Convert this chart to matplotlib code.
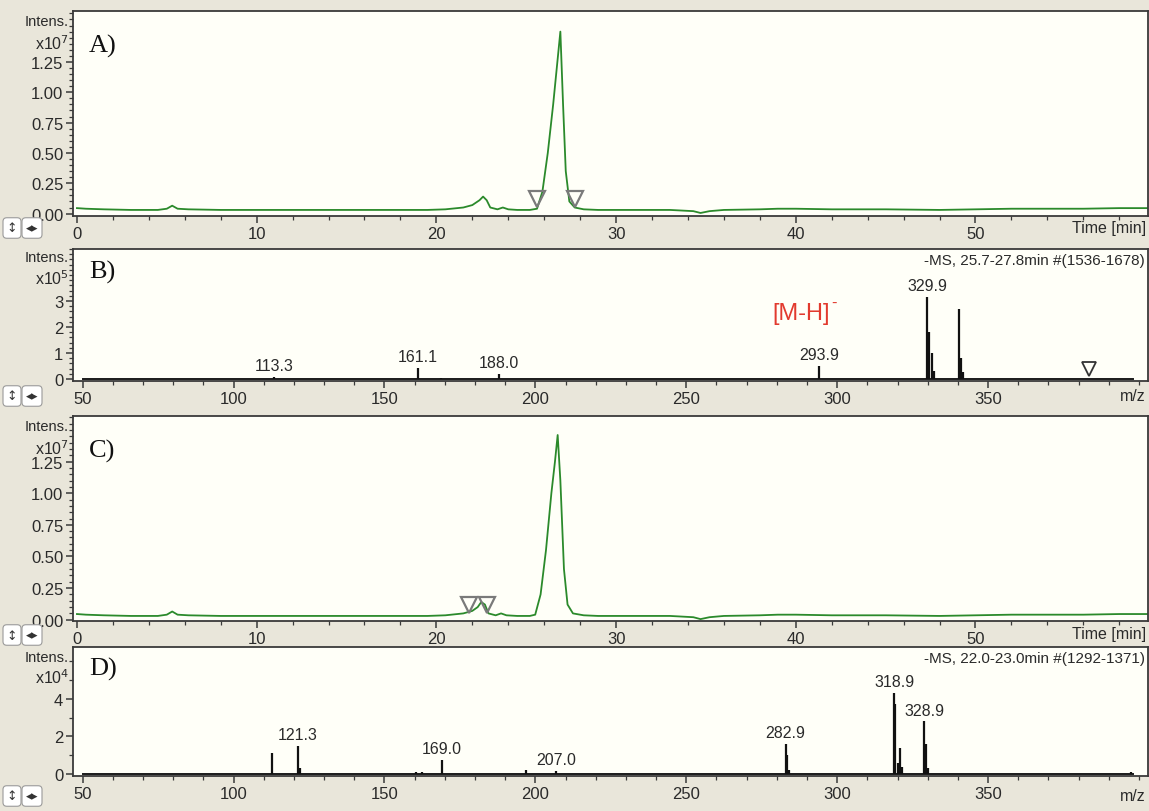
import matplotlib
matplotlib.use("Agg")
import matplotlib.pyplot as plt
from matplotlib.ticker import MultipleLocator, FixedLocator
from matplotlib import font_manager

# Colors
fig_bg = "#E9E6DA"
plot_bg = "#FFFFF8"
green = "#2B8A2B"
ink = "#2A2A2A"
marker_gray = "#7A7A7A"
red = "#E23A2E"

names = {f.name for f in font_manager.fontManager.ttflist}
narrow = "Liberation Sans Narrow" if "Liberation Sans Narrow" in names else "Liberation Sans"
plt.rcParams["font.family"] = [narrow, "DejaVu Sans"]

# ---- data -------------------------------------------------------------
# chromatogram A (x10^7)
time_a = [0, 0.5, 1.5, 3, 4.5, 5.0, 5.3, 5.6, 6.2, 8, 10, 12, 14, 16, 18, 19.5,
          20.5, 21.5, 22.0, 22.4, 22.6, 22.8, 23.0, 23.4, 23.7, 24.0, 24.5, 25.2,
          25.6, 25.9, 26.2, 26.5, 26.7, 26.9, 27.05, 27.2, 27.4, 27.7, 28.2, 29,
          31, 33, 34.3, 34.7, 35.2, 36, 38, 39, 40, 42, 45, 48, 50, 52, 54, 56,
          58, 59.6]
int_a = [0.045, 0.04, 0.035, 0.03, 0.03, 0.04, 0.065, 0.04, 0.035, 0.03, 0.03,
         0.03, 0.03, 0.03, 0.03, 0.03, 0.035, 0.05, 0.07, 0.11, 0.14, 0.11, 0.05,
         0.035, 0.05, 0.035, 0.03, 0.03, 0.04, 0.18, 0.5, 0.9, 1.2, 1.50, 0.9,
         0.35, 0.1, 0.05, 0.035, 0.03, 0.03, 0.03, 0.02, 0.005, 0.02, 0.03, 0.035,
         0.04, 0.04, 0.035, 0.035, 0.03, 0.035, 0.04, 0.04, 0.04, 0.045, 0.045]
marks_a = [25.6, 27.7]

# chromatogram C (x10^7)
time_c = [0, 0.5, 1.5, 3, 4.5, 5.0, 5.3, 5.6, 6.2, 8, 10, 12, 14, 16, 18, 19.5,
          20.5, 21.5, 22.0, 22.3, 22.5, 22.7, 22.9, 23.3, 23.6, 23.9, 24.5, 25.2,
          25.5, 25.8, 26.1, 26.4, 26.6, 26.75, 26.9, 27.1, 27.3, 27.6, 28.2, 29,
          31, 33, 34.3, 34.7, 35.2, 36, 38, 39, 40, 42, 45, 48, 50, 52, 54, 56,
          58, 59.6]
int_c = [0.045, 0.04, 0.035, 0.03, 0.03, 0.04, 0.065, 0.04, 0.035, 0.03, 0.03,
         0.03, 0.03, 0.03, 0.03, 0.03, 0.035, 0.05, 0.07, 0.1, 0.14, 0.12, 0.05,
         0.035, 0.05, 0.035, 0.03, 0.03, 0.04, 0.2, 0.55, 1.0, 1.25, 1.46, 1.1,
         0.4, 0.12, 0.05, 0.035, 0.03, 0.03, 0.03, 0.02, 0.005, 0.02, 0.03, 0.035,
         0.04, 0.04, 0.035, 0.035, 0.03, 0.035, 0.04, 0.04, 0.04, 0.045, 0.045]
marks_c = [21.8, 22.8]

# spectrum B (x10^5)
scan_range = (50, 398)
mz_b = [113.3, 161.1, 168.8, 188.0, 293.9, 329.9, 330.4, 331.5, 332.1,
        340.5, 341.0, 341.6]
int_b = [0.06, 0.42, 0.04, 0.2, 0.5, 3.15, 1.8, 1.0, 0.3, 2.7, 0.8, 0.25]
labels_b = ["113.3", "161.1", None, "188.0", "293.9", "329.9", None, None, None,
            None, None, None]
mark_b = [383.5]
title_b = "-MS, 25.7-27.8min #(1536-1678)"

# spectrum D (x10^4)
mz_d = [112.8, 121.3, 122.0, 160.4, 162.3, 169.0, 196.8, 207.0, 282.9, 283.5,
        284.2, 318.9, 319.3, 320.0, 320.9, 321.5, 328.9, 329.3, 330.0, 397.5]
int_d = [1.1, 1.5, 0.3, 0.1, 0.1, 0.75, 0.22, 0.15, 1.6, 1.0, 0.2, 4.3, 3.7,
         0.6, 1.4, 0.4, 2.8, 1.6, 0.3, 0.1]
labels_d = [None, "121.3", None, None, None, "169.0", None, "207.0", "282.9",
            None, None, "318.9", None, None, None, None, "328.9", None, None, None]
title_d = "-MS, 22.0-23.0min #(1292-1371)"

# ---- layout -----------------------------------------------------------
W, H = 1149, 812
L, R = 73, 1148
fig = plt.figure(figsize=(W / 100, H / 100), dpi=100, facecolor=fig_bg)


def make_axes(top, bottom):
    ax = fig.add_axes([L / W, 1 - bottom / H, (R - L) / W, (bottom - top) / H])
    ax.set_facecolor(plot_bg)
    for s in ax.spines.values():
        s.set_color("#3A3A3A")
        s.set_linewidth(1.3)
    ax.tick_params(which="both", direction="out", colors="#3A3A3A",
                   labelcolor=ink, labelsize=12)
    ax.tick_params(which="major", length=5, width=1.1, pad=2)
    ax.tick_params(which="minor", length=3, width=0.9)
    return ax


def px(x, y):
    return x / W, 1 - y / H


def side_text(ax, exp, y_intens, y_exp, letter):
    fig.text(*px(69, y_intens), "Intens.", ha="right", va="center",
             fontsize=10.5, color=ink)
    fig.text(*px(69, y_exp), r"x10$^{%d}$" % exp, ha="right", va="center",
             fontsize=11.5, color=ink)
    ax.text(0.015, 0.83, letter, transform=ax.transAxes, fontsize=19,
            family="Liberation Serif", color="#111111", va="center")


def icons(y):
    for x, s in [(12, "\u2195"), (32, "\u25C2\u25B8")]:
        fig.text(*px(x, y), s, ha="center", va="center", fontsize=9,
                 color="#333333", family="DejaVu Sans",
                 bbox=dict(boxstyle="round,pad=0.3", fc="white",
                           ec="#9A9A9A", lw=0.8))


def chromatogram(ax, t, y, marks, ylim):
    ax.plot(t, y, color=green, lw=1.3)
    ax.plot(marks, [0.12] * len(marks), "v", ms=11, mfc="none",
            mec=marker_gray, mew=1.6)
    ax.set_xlim(-0.22, 59.6)
    ax.set_ylim(*ylim)
    ax.xaxis.set_major_locator(FixedLocator([0, 10, 20, 30, 40, 50]))
    ax.xaxis.set_minor_locator(MultipleLocator(2))
    ax.yaxis.set_major_locator(FixedLocator([0, 0.25, 0.5, 0.75, 1.0, 1.25]))
    ax.yaxis.set_minor_locator(MultipleLocator(0.05))
    ax.set_yticklabels(["0.00", "0.25", "0.50", "0.75", "1.00", "1.25"])


def spectrum(ax, mz, inten, labels, ylim, yticks, minor, title):
    ax.plot(scan_range, [0, 0], color="#1A1A1A", lw=1.4)
    ax.vlines(mz, 0, inten, color="#111111", lw=1.6)
    top = ylim[1]
    for m, v, lab in zip(mz, inten, labels):
        if lab:
            ax.text(m, v + top * 0.03, lab, ha="center", va="bottom",
                    fontsize=11.5, color=ink)
    ax.set_xlim(46.8, 403)
    ax.set_ylim(*ylim)
    ax.xaxis.set_major_locator(FixedLocator([50, 100, 150, 200, 250, 300, 350]))
    ax.xaxis.set_minor_locator(MultipleLocator(10))
    ax.yaxis.set_major_locator(FixedLocator(yticks))
    ax.yaxis.set_minor_locator(MultipleLocator(minor))
    ax.text(0.997, 0.97, title, transform=ax.transAxes, ha="right", va="top",
            fontsize=11, color=ink)


# A
ax_a = make_axes(12, 217)
chromatogram(ax_a, time_a, int_a, marks_a, (-0.02, 1.67))
side_text(ax_a, 7, 22, 44, "A)")
fig.text(*px(1146, 229), "Time [min]", ha="right", va="center", fontsize=11.5,
         color=ink)
icons(229)

# B
ax_b = make_axes(250, 382)
spectrum(ax_b, mz_b, int_b, labels_b, (-0.08, 5.0), [0, 1, 2, 3], 0.2, title_b)
ax_b.plot(mark_b, [0.38], "v", ms=10, mfc="none", mec="#333333", mew=1.3)
ax_b.text(297.5, 2.55, "[M-H]", fontsize=17, color=red, ha="right",
          va="center", family="Liberation Sans")
ax_b.text(298.0, 2.95, "-", fontsize=12, color=red, ha="left",
          va="center", family="Liberation Sans")
side_text(ax_b, 5, 258, 279, "B)")
fig.text(*px(1146, 397), "m/z", ha="right", va="center", fontsize=11.5,
         color=ink)
icons(397)

# C
ax_c = make_axes(417, 622)
chromatogram(ax_c, time_c, int_c, marks_c, (-0.01, 1.61))
side_text(ax_c, 7, 427, 449, "C)")
fig.text(*px(1146, 635), "Time [min]", ha="right", va="center", fontsize=11.5,
         color=ink)
icons(636)

# D
ax_d = make_axes(648, 777)
spectrum(ax_d, mz_d, int_d, labels_d, (-0.1, 6.75), [0, 2, 4], 1, title_d)
side_text(ax_d, 4, 658, 678, "D)")
fig.text(*px(1146, 797), "m/z", ha="right", va="center", fontsize=11.5,
         color=ink)
icons(797)

fig.savefig("out.png", dpi=100, facecolor=fig_bg)
